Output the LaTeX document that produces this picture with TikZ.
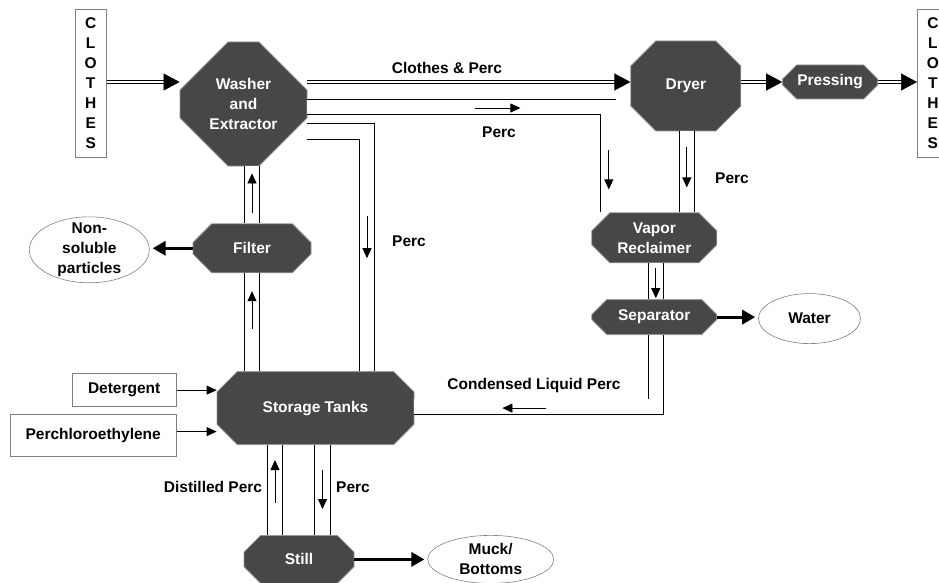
\documentclass[tikz,border=0pt]{standalone}
\usepackage{fontspec}
\setmainfont{Liberation Sans}
\usetikzlibrary{shapes.misc, shapes.geometric, arrows.meta, positioning, calc}
\definecolor{unitfill}{RGB}{71,71,71}
\definecolor{unitrim}{RGB}{150,150,150}
\definecolor{boxrim}{RGB}{128,128,128}
\newcommand{\flowfont}{\fontsize{15.5}{20}\selectfont\bfseries}
\tikzset{
  unit/.style={chamfered rectangle, chamfered rectangle sep=#1, fill=unitfill, draw=unitrim, line width=0.8pt, text=white, align=center, inner sep=0pt, font=\flowfont},
  unit/.default=12pt,
  feedbox/.style={rectangle, draw=boxrim, fill=white, line width=0.8pt, inner sep=0pt, align=center, font=\flowfont},
  waste/.style={ellipse, draw=boxrim, line width=0.6pt, inner xsep=0pt, inner ysep=-6pt, align=center, font=\flowfont},
  tag/.style={font=\flowfont, inner sep=0pt, text height=11pt, text depth=0pt},
  clothflow/.style={double, double distance=2.2pt, line width=0.7pt, -{Triangle[length=16pt, width=17pt]}},
  pipe/.style={double, double distance=14.5pt, line width=0.8pt},
  flow/.style={line width=0.8pt, -{Triangle[length=10pt, width=9pt]}},
  feed/.style={line width=0.8pt, -{Triangle[length=10pt, width=9pt]}},
  reject/.style={line width=3pt, -{Triangle[length=13pt, width=14pt]}, shorten >=3pt},
}
\begin{document}
\begin{tikzpicture}[x=1pt, y=-1pt]
\path[use as bounding box, clip] (0,0) rectangle (939,583);
% process units
\node (washer) [unit=24pt, minimum width=127pt, minimum height=124pt] at (243.5,104) {Washer\\and\\Extractor};
\node (dryer) [unit=18pt, minimum width=110pt, minimum height=90pt, right=323pt of washer, yshift=18pt] {Dryer};
\node (press) [unit=7pt, minimum width=95pt, minimum height=34pt, right=41pt of dryer, yshift=4pt] {Pressing};
\node (filter) [unit=13pt, minimum width=118pt, minimum height=49pt, below=57pt of washer, xshift=8.5pt] {Filter};
\node (tanks) [unit=13pt, minimum width=197pt, minimum height=73pt, below=98pt of filter, xshift=63.5pt] {Storage Tanks};
\node (still) [unit=11pt, minimum width=110pt, minimum height=48pt, below=90pt of tanks, xshift=-16.5pt] {Still};
\node (vapor) [unit=9pt, minimum width=125pt, minimum height=50pt, below=81pt of dryer, xshift=-31.5pt] {Vapor\\Reclaimer};
\node (separator) [unit=8pt, minimum width=125pt, minimum height=35pt, below=36pt of vapor] {Separator};
% inputs and outputs
\node (clothesL) [feedbox, minimum width=31pt, minimum height=148pt, left=73pt of washer, yshift=21pt] {C\\L\\O\\T\\H\\E\\S};
\node (clothesR) [feedbox, minimum width=31pt, minimum height=148pt, right=39pt of press, yshift=-1pt] {C\\L\\O\\T\\H\\E\\S};
\node (detergent) [feedbox, minimum width=104pt, minimum height=33pt, left=40pt of tanks, yshift=18pt] {Detergent};
\node (perchloro) [feedbox, minimum width=166pt, minimum height=42pt, left=40pt of tanks, yshift=-27.5pt] {Perchloroethylene};
\node (nonsol) [waste, minimum width=120pt, minimum height=66pt, left=43pt of filter, yshift=-1.5pt] {Non-\\soluble\\particles};
\node (water) [waste, minimum width=102pt, minimum height=50pt, right=41pt of separator, yshift=-1.5pt] {Water};
\node (muck) [waste, minimum width=126pt, minimum height=48pt, right=73pt of still] {Muck/\\Bottoms};
% clothes line
\draw[clothflow] (clothesL.east |- press.west) -- (washer.west |- press.west);
\draw[clothflow] (washer.east |- press.west) -- (dryer.west |- press.west);
\draw[clothflow] (dryer.east |- press.west) -- (press.west);
\draw[clothflow] (press.east) -- (clothesR.west |- press.east);
% perc pipes
\draw[pipe] ([yshift=-3pt]washer.east) -| ([xshift=-46pt]vapor.north);
\draw[pipe] ([yshift=-27.5pt]washer.east) -| ([xshift=51.5pt]tanks.north);
\draw[pipe] ([xshift=1pt]dryer.south) -- ([xshift=1pt]dryer.south |- vapor.north);
\draw[pipe] (washer.south -| filter.north) -- (filter.north);
\draw[pipe] (filter.south) -- (filter.south |- tanks.north);
\draw[pipe] ([xshift=1.5pt]vapor.south) -- ([xshift=1.5pt]separator.north);
\draw[pipe] ([xshift=1.5pt]separator.south) |- ([yshift=1.5pt]tanks.east);
\draw[pipe] ([xshift=-24pt]still.north) -- ([xshift=-24pt]still.north |- tanks.south);
\draw[pipe] ([xshift=23.5pt]still.north) -- ([xshift=23.5pt]still.north |- tanks.south);
% flow directions
\draw[flow] ([yshift=10pt]filter.north) -- ([yshift=50pt]filter.north);
\draw[flow] ([yshift=-56pt]filter.south) -- ([yshift=-18pt]filter.south);
\draw[flow] ([shift={(51.5pt,155pt)}]tanks.north) -- ([shift={(51.5pt,113pt)}]tanks.north);
\draw[flow] ([shift={(168pt,-4pt)}]washer.east) -- ([shift={(213pt,-4pt)}]washer.east);
\draw[flow] ([shift={(-45.5pt,62pt)}]vapor.north) -- ([shift={(-45.5pt,23pt)}]vapor.north);
\draw[flow] ([shift={(1pt,-16pt)}]dryer.south) -- ([shift={(1pt,-56pt)}]dryer.south);
\draw[flow] ([shift={(1.5pt,-5pt)}]vapor.south) -- ([shift={(1.5pt,-35pt)}]vapor.south);
\draw[flow] ([xshift=132pt]tanks.east) -- ([xshift=88pt]tanks.east);
\draw[flow] ([shift={(-24pt,32pt)}]still.north) -- ([shift={(-24pt,75pt)}]still.north);
\draw[flow] ([shift={(23.5pt,65pt)}]still.north) -- ([shift={(23.5pt,26pt)}]still.north);
% feeds and rejects
\draw[feed] (detergent.east) -- (detergent.east -| tanks.west);
\draw[feed] ([yshift=4pt]perchloro.east) -- ([yshift=4pt]perchloro.east -| tanks.west);
\draw[reject] (filter.west) -- (filter.west -| nonsol.east);
\draw[reject] (separator.east) -- (separator.east -| water.west);
\draw[reject] (still.east) -- (muck.west);
% labels
\node (lblcp) [tag] at (447,68.5) {Clothes \& Perc};
\node (lblperca) [tag] at (499,132) {Perc};
\node (lblpercb) [tag] at (732,178) {Perc};
\node (lblpercc) [tag] at (409,241) {Perc};
\node (lblcond) [tag] at (534,384) {Condensed Liquid Perc};
\node (lbldist) [tag] at (213,486.5) {Distilled Perc};
\node (lblpercd) [tag] at (353,486.5) {Perc};
\end{tikzpicture}
\end{document}
